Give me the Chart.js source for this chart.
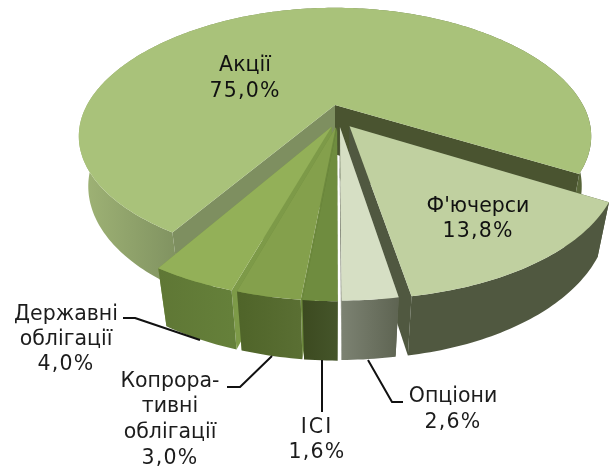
<!DOCTYPE html>
<html><head><meta charset="utf-8">
<style>html,body{margin:0;padding:0;background:#fff}canvas{display:block}</style>
<script src="https://cdn.jsdelivr.net/npm/chart.js@4"></script>
</head><body><canvas id="c" width="613" height="468"></canvas>
<script>
const categories = ['Акції', "Ф'ючерси", 'Опціони', 'ICI', 'Копрора-тивні облігації', 'Державні облігації'];
const shares = [75.0, 13.8, 2.6, 1.6, 3.0, 4.0];
const topColors = ['#A9C27A', '#C0D0A0', '#D6DFC4', '#6F8C3F', '#84A04C', '#93B058'];
const rimColors = [
  [[0, '#A0B476'], [0.2, '#7F9160'], [0.97, '#5C6B3C'], [1, '#4A5430']],
  [[0, '#505840'], [1, '#505840']],
  [[0, '#7C8272'], [1, '#5E6452']],
  [[0, '#3C4A20'], [1, '#45552A']],
  [[0, '#4F6429'], [1, '#5A6F33']],
  [[0, '#5F7735'], [1, '#65803A']]
];
const startWall = ['#7E8F60', '#505840', '#6A705C', '#5E7A33', '#6E8A3E', '#7D9A48'];
const endWall = ['#4A5430', '#505840', '#6A705C', '#5E7A33', '#6E8A3E', '#7D9A48'];
const explodeX = [0, 0.056, 0.019, 0.008, 0.003, -0.013];
const explodeZ = [0, -0.175, -0.18, -0.183, -0.182, -0.178];
const drawOrder = [0, 1, 5, 4, 3, 2];
const labelBlocks = [
  {lines: ['Акції', '75,0%'], x: 245, y: [71, 97], color: '#111'},
  {lines: ["Ф'ючерси", '13,8%'], x: 478, y: [212, 237], color: '#111'},
  {lines: ['Опціони', '2,6%'], x: 453, y: [402, 428], color: '#1c1c1c'},
  {lines: ['ICI', '1,6%'], x: 317, y: [433, 458], color: '#1c1c1c'},
  {lines: ['Копрора-', 'тивні', 'облігації', '3,0%'], x: 170, y: [387, 412, 438, 464], color: '#1c1c1c'},
  {lines: ['Державні', 'облігації', '4,0%'], x: 66, y: [320, 345, 370], color: '#1c1c1c'}
];
const leaders = [
  [[123,318],[135,318],[200,340]],
  [[227,387],[240,387],[272,356]],
  [[322,360],[322,412]],
  [[368,360],[392,402],[403,402]]
];
const view = {cx: 335, cy: 105, rx: 248, ry: 116.6, persp: 0.251, depth: 51, depthPersp: 0.036, rearLift: 0.043};

function project(X, Z, Y) {
  const s = 1 / (1 + view.persp * Z + view.depthPersp * Y);
  const lift = Z > 0 ? 1 + view.rearLift * Z : 1;
  return [view.cx + view.rx * X * s, view.cy - view.ry * Z * s * lift + view.depth * Y * s];
}
function poly(ctx, pts) {
  ctx.beginPath();
  pts.forEach((p, i) => i ? ctx.lineTo(p[0], p[1]) : ctx.moveTo(p[0], p[1]));
  ctx.closePath();
}
const pie3d = {
  id: 'pie3d',
  beforeDatasetDraw(chart) {
    const ctx = chart.ctx, arcs = chart.getDatasetMeta(0).data;
    ctx.save();
    drawOrder.forEach(i => {
      const a = arcs[i];
      const a0 = a.startAngle + Math.PI / 2, a1 = a.endAngle + Math.PI / 2;
      const ox = explodeX[i], oz = explodeZ[i];
      const n = Math.max(2, Math.ceil((a1 - a0) * 180 / Math.PI));
      const top = [], base = [];
      for (let k = 0; k <= n; k++) {
        const t = a0 + (a1 - a0) * k / n;
        top.push(project(ox + Math.sin(t), oz + Math.cos(t), 0));
        base.push(project(ox + Math.sin(t), oz + Math.cos(t), 1));
      }
      const cT = project(ox, oz, 0), cB = project(ox, oz, 1);
      ctx.fillStyle = startWall[i];
      poly(ctx, [cT, top[0], base[0], cB]); ctx.fill();
      ctx.fillStyle = endWall[i];
      poly(ctx, [cT, top[n], base[n], cB]); ctx.fill();
      const xs = top.map(p => p[0]);
      const g = ctx.createLinearGradient(Math.min(...xs), 0, Math.max(...xs), 0);
      rimColors[i].forEach(s => g.addColorStop(s[0], s[1]));
      ctx.fillStyle = g;
      poly(ctx, top.concat(base.slice().reverse())); ctx.fill();
      ctx.fillStyle = a.options.backgroundColor;
      poly(ctx, [cT].concat(top)); ctx.fill();
    });
    ctx.restore();
    return false;
  },
  afterDraw(chart) {
    const ctx = chart.ctx;
    ctx.save();
    ctx.strokeStyle = '#111'; ctx.lineWidth = 2; ctx.lineJoin = 'round';
    leaders.forEach(l => {
      ctx.beginPath();
      l.forEach((p, i) => i ? ctx.lineTo(p[0], p[1]) : ctx.moveTo(p[0], p[1]));
      ctx.stroke();
    });
    ctx.font = '20.5px "DejaVu Sans"';
    ctx.textAlign = 'center'; ctx.textBaseline = 'alphabetic';
    labelBlocks.forEach(b => {
      ctx.fillStyle = b.color;
      b.lines.forEach((t, i) => {
        ctx.letterSpacing = t === 'ICI' ? '2px' : (t.includes('%') ? '1.2px' : '0px');
        ctx.fillText(t, b.x, b.y[i]);
      });
    });
    ctx.restore();
  }
};
new Chart(document.getElementById('c'), {
  type: 'pie',
  data: {labels: categories, datasets: [{data: shares, backgroundColor: topColors, borderWidth: 0}]},
  options: {
    responsive: false, animation: false, rotation: 210.96,
    plugins: {legend: {display: false}, tooltip: {enabled: false}, title: {display: false}}
  },
  plugins: [pie3d]
});
</script></body></html>
